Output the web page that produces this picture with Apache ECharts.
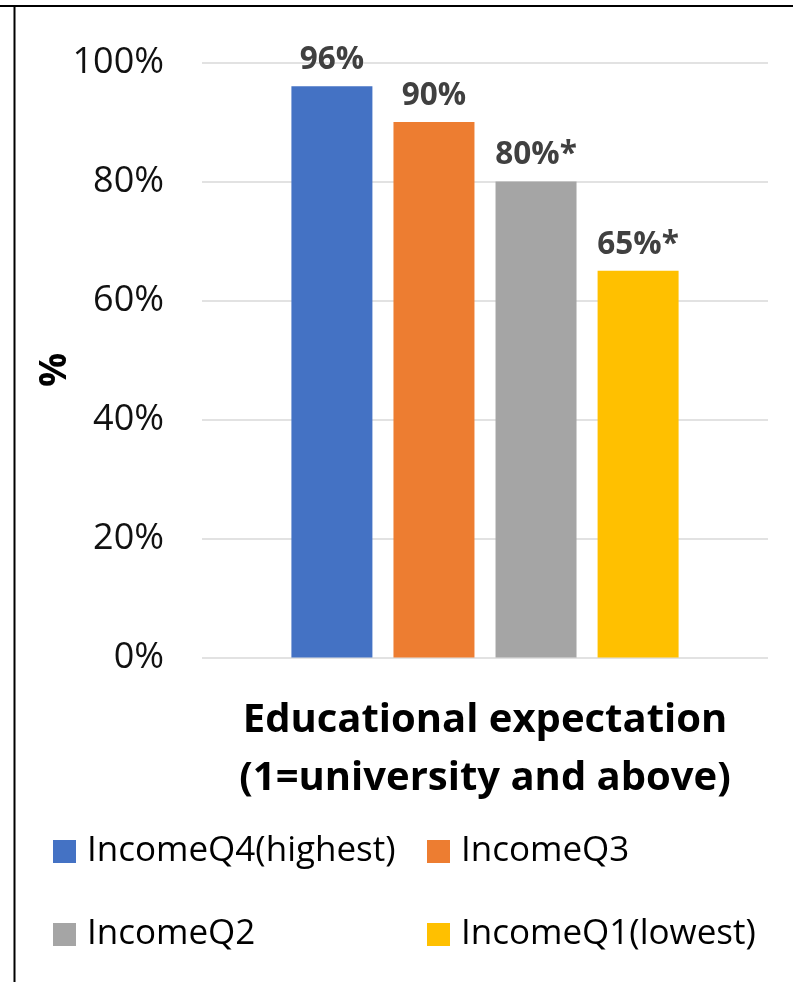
<!DOCTYPE html>
<html>
<head>
<meta charset="utf-8">
<script src="https://cdn.jsdelivr.net/npm/echarts@6/dist/echarts.min.js"></script>
<style>
  html, body { margin: 0; padding: 0; background: #fff; }
  #chart { width: 793px; height: 982px; }
</style>
</head>
<body>
<div id="chart"></div>
<script>
// Share expecting university-level education, by household income quartile
const category = ['Educational expectation\n(1=university and above)'];
const groups = ['IncomeQ4(highest)', 'IncomeQ3', 'IncomeQ2', 'IncomeQ1(lowest)'];
const values = [96, 90, 80, 65];
const significance = ['', '', '*', '*'];
const colors = ['#4472C4', '#ED7D31', '#A5A5A5', '#FFC000'];
const yTicks = [0, 20, 40, 60, 80, 100];

const FONT = '"Open Sans", "Noto Sans", sans-serif';

const series = groups.map((name, i) => ({
  name: name,
  type: 'bar',
  data: [values[i]],
  barWidth: 81,
  barGap: '26%',
  itemStyle: { color: colors[i] },
  label: {
    show: true,
    position: 'top',
    distance: 10,
    fontFamily: FONT,
    fontSize: 31.5,
    fontWeight: 'bold',
    color: '#404040',
    formatter: p => p.value + '%' + significance[i]
  }
}));

// one legend block per entry, laid out as a 2 x 2 grid
const legendSlots = [
  { left: 53, top: 834 },
  { left: 427, top: 834 },
  { left: 53, top: 917 },
  { left: 427, top: 917 }
];
const legends = groups.map((name, i) => ({
  data: [name],
  left: legendSlots[i].left,
  top: legendSlots[i].top,
  padding: 0,
  icon: 'rect',
  itemWidth: 23,
  itemHeight: 23,
  itemGap: 0,
  selectedMode: false,
  textStyle: {
    fontFamily: FONT,
    fontSize: 35,
    color: '#000',
    padding: [0, 0, 0, 6]
  }
}));

const chart = echarts.init(document.getElementById('chart'), null, { renderer: 'canvas' });
chart.setOption({
  animation: false,
  backgroundColor: '#fff',
  grid: { left: 202, right: 25, top: 62.5, bottom: 324.5 },
  legend: legends,
  xAxis: {
    type: 'category',
    data: category,
    axisLine: { show: false },
    axisTick: { show: false },
    axisLabel: { show: false },
    name: category[0],
    nameLocation: 'middle',
    nameGap: 34,
    nameTextStyle: {
      fontFamily: FONT,
      fontSize: 40,
      fontWeight: 'bold',
      color: '#000',
      lineHeight: 58,
      align: 'center'
    }
  },
  yAxis: {
    type: 'value',
    min: yTicks[0],
    max: yTicks[yTicks.length - 1],
    interval: yTicks[1] - yTicks[0],
    axisLine: { show: false },
    axisTick: { show: false },
    axisLabel: {
      formatter: '{value}%',
      fontFamily: FONT,
      fontSize: 36,
      color: '#111',
      margin: 38
    },
    splitLine: { lineStyle: { color: '#D9D9D9', width: 1.5 } }
  },
  graphic: [
    // vertical axis title
    {
      type: 'text',
      x: 55,
      y: 370,
      rotation: Math.PI / 2,
      style: {
        text: '%',
        fontFamily: FONT,
        fontSize: 38,
        fontWeight: 'bold',
        fill: '#000',
        textAlign: 'center',
        textVerticalAlign: 'middle'
      }
    },
    // frame lines along the top and left edges
    {
      type: 'line',
      shape: { x1: 0, y1: 6, x2: 793, y2: 6 },
      style: { stroke: '#000', lineWidth: 2 }
    },
    {
      type: 'line',
      shape: { x1: 14.5, y1: 5, x2: 14.5, y2: 982 },
      style: { stroke: '#000', lineWidth: 2 }
    }
  ],
  series: series
});
</script>
</body>
</html>
